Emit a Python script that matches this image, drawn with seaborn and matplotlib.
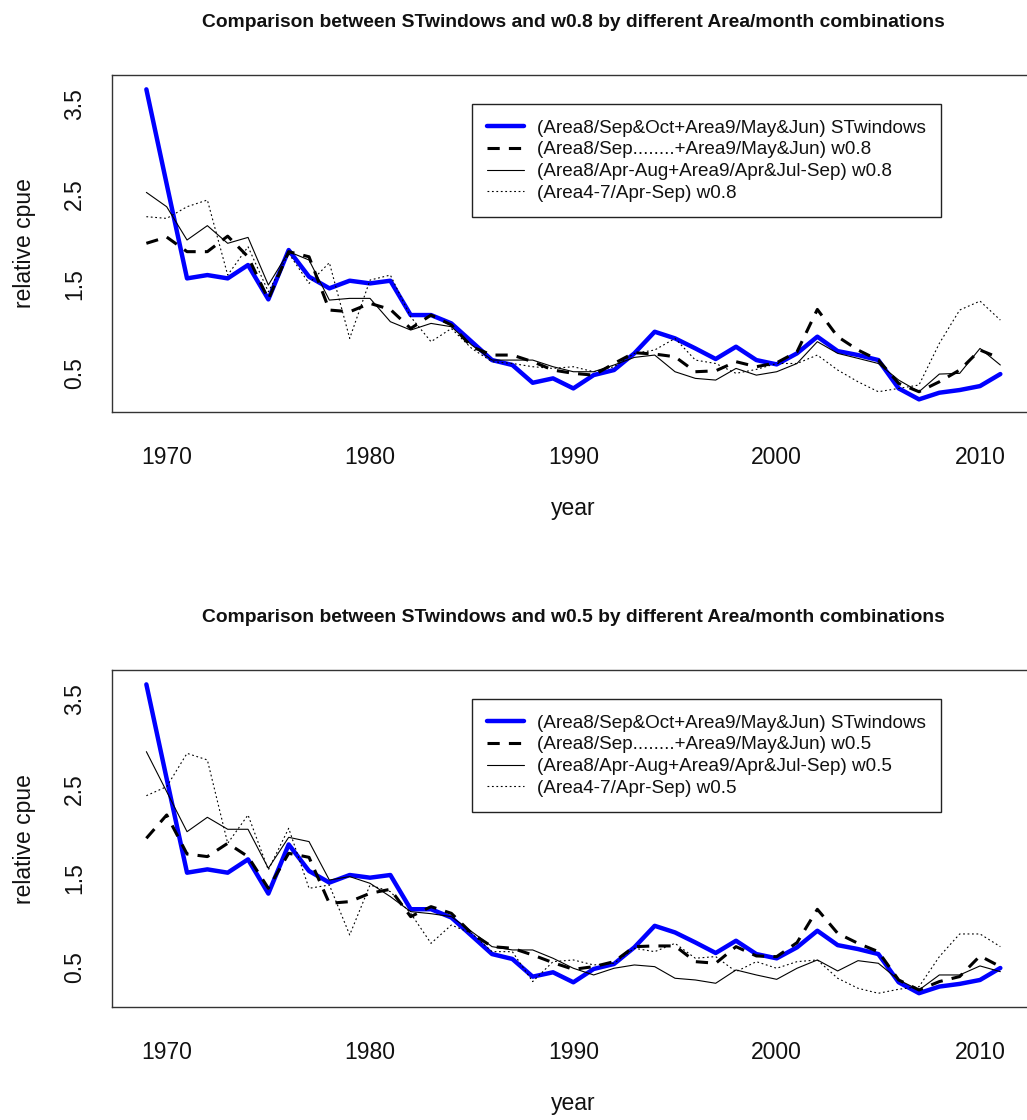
import numpy as np
import pandas as pd
import matplotlib
matplotlib.use("Agg")
import matplotlib.pyplot as plt
import seaborn as sns

years = list(range(1969, 2012))

st_windows = [3.667, 2.61, 1.559, 1.596, 1.559, 1.708, 1.325, 1.875, 1.578, 1.448,
              1.533, 1.503, 1.533, 1.15, 1.15, 1.057, 0.853, 0.648, 0.593, 0.395,
              0.444, 0.332, 0.481, 0.537, 0.723, 0.964, 0.89, 0.778, 0.66, 0.797,
              0.648, 0.6, 0.723, 0.909, 0.748, 0.704, 0.648, 0.332, 0.21, 0.284,
              0.314, 0.358, 0.492]

sep_w08 = [1.95, 2.02, 1.857, 1.857, 2.03, 1.8, 1.325, 1.857, 1.8, 1.206,
           1.187, 1.28, 1.213, 1.0, 1.15, 1.04, 0.797, 0.704, 0.704, 0.63,
           0.537, 0.5, 0.48, 0.61, 0.73, 0.715, 0.685, 0.518, 0.528, 0.63,
           0.574, 0.618, 0.74, 1.213, 0.909, 0.76, 0.648, 0.388, 0.295, 0.406,
           0.537, 0.76, 0.667]

aprAug_w08 = [2.518, 2.358, 1.987, 2.147, 1.95, 2.016, 1.485, 1.857, 1.764, 1.317,
              1.336, 1.336, 1.076, 0.983, 1.057, 1.02, 0.816, 0.648, 0.648, 0.648,
              0.574, 0.518, 0.518, 0.593, 0.678, 0.704, 0.518, 0.444, 0.425, 0.555,
              0.48, 0.518, 0.61, 0.853, 0.723, 0.667, 0.61, 0.425, 0.295, 0.492,
              0.5, 0.778, 0.593]

area47_w08 = [2.247, 2.228, 2.358, 2.433, 1.596, 1.912, 1.41, 1.838, 1.503, 1.734,
              0.89, 1.54, 1.596, 1.13, 0.853, 1.0, 0.778, 0.63, 0.61, 0.574,
              0.555, 0.574, 0.518, 0.574, 0.723, 0.76, 0.89, 0.648, 0.61, 0.5,
              0.544, 0.61, 0.61, 0.704, 0.537, 0.406, 0.295, 0.332, 0.37, 0.834,
              1.206, 1.306, 1.094]

sep_w05 = [1.944, 2.205, 1.768, 1.739, 1.888, 1.739, 1.384, 1.776, 1.731, 1.216,
           1.235, 1.328, 1.373, 1.067, 1.179, 1.104, 0.88, 0.731, 0.713, 0.638,
           0.552, 0.477, 0.507, 0.563, 0.731, 0.739, 0.739, 0.563, 0.545, 0.731,
           0.627, 0.619, 0.776, 1.149, 0.88, 0.768, 0.675, 0.358, 0.246, 0.34,
           0.396, 0.627, 0.507]

aprAug_w05 = [2.914, 2.466, 2.018, 2.179, 2.045, 2.045, 1.608, 1.955, 1.907, 1.477,
              1.515, 1.44, 1.291, 1.123, 1.1, 1.067, 0.899, 0.731, 0.694, 0.694,
              0.601, 0.489, 0.414, 0.489, 0.526, 0.507, 0.377, 0.358, 0.321, 0.47,
              0.414, 0.365, 0.489, 0.582, 0.459, 0.574, 0.545, 0.358, 0.246, 0.414,
              0.414, 0.515, 0.451]

area47_w05 = [2.421, 2.522, 2.895, 2.821, 1.888, 2.205, 1.59, 2.056, 1.384, 1.421,
              0.862, 1.421, 1.347, 1.104, 0.768, 0.973, 0.88, 0.675, 0.675, 0.34,
              0.563, 0.582, 0.526, 0.545, 0.713, 0.675, 0.768, 0.601, 0.62, 0.451,
              0.563, 0.489, 0.563, 0.582, 0.377, 0.265, 0.209, 0.254, 0.283, 0.619,
              0.873, 0.873, 0.731]

x_ticks = [1970, 1980, 1990, 2000, 2010]
y_ticks = [0.5, 1.0, 1.5, 2.0, 2.5, 3.0, 3.5]
y_ticklabels = ["0.5", "", "1.5", "", "2.5", "", "3.5"]

panels = [
    {"w": "w0.8", "sep": sep_w08, "apr": aprAug_w08, "a47": area47_w08, "ylim": (0.069, 3.827)},
    {"w": "w0.5", "sep": sep_w05, "apr": aprAug_w05, "a47": area47_w05, "ylim": (0.052, 3.828)},
]

sns.set_theme(style="white")
plt.rcParams["font.family"] = ["Liberation Sans", "DejaVu Sans"]

W, H = 1027, 1120
fig = plt.figure(figsize=(W / 100, H / 100), dpi=100)

ax_left_px, ax_right_px = 112.2, 1034.5
ax_tops = [75, 670]
ax_bottoms = [412, 1007.3]

for p, top_px, bot_px in zip(panels, ax_tops, ax_bottoms):
    ax = fig.add_axes([ax_left_px / W, 1 - bot_px / H,
                       (ax_right_px - ax_left_px) / W, (bot_px - top_px) / H])
    w = p["w"]
    sns.lineplot(x=years, y=st_windows, ax=ax, color="#0000FF", lw=3.2,
                 label="(Area8/Sep&Oct+Area9/May&Jun) STwindows")
    sns.lineplot(x=years, y=p["sep"], ax=ax, color="black", lw=2.2, dashes=(4, 3),
                 label=f"(Area8/Sep........+Area9/May&Jun) {w}")
    sns.lineplot(x=years, y=p["apr"], ax=ax, color="black", lw=0.8,
                 label=f"(Area8/Apr-Aug+Area9/Apr&Jul-Sep) {w}")
    sns.lineplot(x=years, y=p["a47"], ax=ax, color="black", lw=0.8, dashes=(1.6, 2.4),
                 label=f"(Area4-7/Apr-Sep) {w}")

    ax.set_xlim(1967.32, 2012.68)
    ax.set_ylim(*p["ylim"])
    ax.set_xticks(x_ticks)
    ax.set_xticklabels([str(t) for t in x_ticks])
    ax.set_yticks(y_ticks)
    ax.set_yticklabels(y_ticklabels, rotation=90, va="center")
    ax.tick_params(axis="both", direction="out", length=9, width=1.0,
                   color="#222222", labelsize=16.5, labelcolor="#111111")
    ax.tick_params(axis="x", pad=15.5)
    ax.tick_params(axis="y", pad=10)
    for s in ax.spines.values():
        s.set_visible(True)
        s.set_color("#333333")
        s.set_linewidth(1.0)
    ax.grid(False)
    ax.set_xlabel("year", fontsize=16.5, labelpad=20, color="#111111")
    ax.set_ylabel("relative cpue", fontsize=16.5, labelpad=19, color="#111111")
    ax.set_title(f"Comparison between STwindows and {w} by different Area/month combinations",
                 fontsize=13.85, fontweight="bold", pad=34.5, color="#111111")

    leg = ax.legend(loc="upper left", bbox_to_anchor=(0.3898, 0.913),
                    borderaxespad=0, fontsize=13.6, frameon=True, fancybox=False,
                    edgecolor="#222222", framealpha=1, handlelength=1.96,
                    handletextpad=0.69, borderpad=0.8, labelspacing=0.24)
    leg.get_frame().set_linewidth(1.0)
    for t in leg.get_texts():
        t.set_color("#111111")

fig.savefig("out.png", dpi=100)
